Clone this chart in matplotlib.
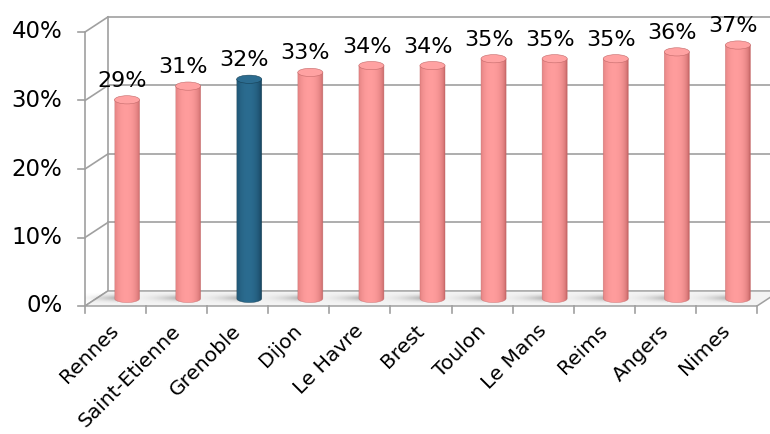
import numpy as np
import matplotlib
matplotlib.use("Agg")
import matplotlib.pyplot as plt
from matplotlib.patches import Polygon, Ellipse
from matplotlib.colors import to_rgb

plt.rcParams['font.family'] = ['DejaVu Sans']

cities = ['Rennes', 'Saint-Etienne', 'Grenoble', 'Dijon', 'Le Havre', 'Brest',
          'Toulon', 'Le Mans', 'Reims', 'Angers', 'Nimes']
shares = [29, 31, 32, 33, 34, 34, 35, 35, 35, 36, 37]
highlight = 'Grenoble'
yticks = [0, 10, 20, 30, 40]

# fake 3D: depth offset of the back wall (in data units), bar size
DX, DY = 0.376, 2.2
BAR_W = 0.41
CAP_H = 1.2
GRID = '#a0a0a0'

fig = plt.figure(figsize=(7.7, 4.34), dpi=100)
ax = fig.add_axes([85 / 770, 128 / 434, 672 / 770, 274 / 434])
ax.set_autoscale_on(False)
ax.set_xlim(-0.5, len(cities) - 0.5)
ax.set_ylim(0, 40)
ax.axis('off')

x0, x1 = -0.5, len(cities) - 0.5

# floor plate
floor = Polygon([(x0, 0), (x1, 0), (x1 + DX, DY), (x0 + DX, DY)], closed=True,
                facecolor='#f3f3f3', edgecolor=GRID, lw=1.1, zorder=1, clip_on=False)
ax.add_patch(floor)

# back wall gridlines and left side wall
for v in yticks:
    if v > 0:
        ax.plot([x0 + DX, x1 + DX + 1], [v + DY, v + DY], color=GRID, lw=1.2,
                zorder=0.5, clip_on=False)
    ax.plot([x0, x0 + DX], [v, v + DY], color=GRID, lw=1.2, zorder=0.6, clip_on=False)
    ax.plot([x0 - 0.115, x0], [v, v], color=GRID, lw=1.2, zorder=0.6, clip_on=False)
    ax.text(x0 - 0.37, v, f'{v}%', ha='right', va='center', fontsize=16.5, clip_on=False)
ax.plot([x0 + DX, x0 + DX], [DY, 40 + DY], color=GRID, lw=1.2, zorder=0.5, clip_on=False)
ax.plot([x0, x0], [0, 40], color=GRID, lw=1.2, zorder=0.6, clip_on=False)

# category ticks along the front edge of the floor
for k in range(len(cities) + 1):
    ax.plot([x0 + k, x0 + k], [0, -1.0], color=GRID, lw=1.2, clip_on=False)


def gradient(dark, light, n=64):
    t = np.linspace(-1, 1, n)
    prof = np.clip(1 - ((t + 0.15) / 1.05) ** 2, 0, 1) ** 0.6
    d, l = np.array(to_rgb(dark)), np.array(to_rgb(light))
    return (d[None, :] + (l - d)[None, :] * prof[:, None])[None, :, :]


def cylinder(xc, top, dark, light, cap, edge):
    base = DY / 2
    a = np.linspace(0, -np.pi, 40)
    pts = [(xc - BAR_W / 2, top), (xc + BAR_W / 2, top)]
    pts += list(zip(xc + BAR_W / 2 * np.cos(a), base + CAP_H / 2 * np.sin(a)))
    body = Polygon(pts, closed=True, facecolor='none', edgecolor=edge, lw=0.4,
                   alpha=0.7, zorder=4, clip_on=False)
    ax.add_patch(body)
    im = ax.imshow(gradient(dark, light), extent=[xc - BAR_W / 2, xc + BAR_W / 2,
                   base - CAP_H / 2, top], aspect='auto', interpolation='bilinear',
                   zorder=3)
    im.set_clip_path(body)
    ax.add_patch(Ellipse((xc, top), BAR_W, CAP_H, facecolor=cap, edgecolor=edge,
                         lw=0.4, alpha=1, zorder=5, clip_on=False))

    # soft shadow on the floor to the left of the bar
    n = 40
    sx = np.linspace(0, 1, n) ** 2
    sy = np.exp(-np.linspace(-1.6, 1.6, 12) ** 2)
    rgba = np.zeros((12, n, 4))
    rgba[..., :3] = 0.45
    rgba[..., 3] = 0.5 * sy[:, None] * sx[None, :]
    ax.imshow(rgba, extent=[xc - BAR_W / 2 - 0.75, xc - BAR_W / 2 + 0.05,
              base - 0.7, base + 0.7], aspect='auto', interpolation='bilinear',
              zorder=2)


for i, (city, v) in enumerate(zip(cities, shares)):
    xc = i + DX / 2
    top = v + DY / 2
    if city == highlight:
        cylinder(xc, top, '#153f58', '#2b6c90', '#2c6c90', '#164055')
    else:
        cylinder(xc, top, '#c86868', '#ff9d9d', '#ffa2a2', '#c46a6a')
    ax.text(xc - 0.08, top + CAP_H / 2 + 1.3, f'{v}%', ha='center', va='baseline',
            fontsize=16, zorder=6, clip_on=False)
    ax.text(i - 0.1, -2.2, city, rotation=45, rotation_mode='anchor', ha='right',
            va='top', fontsize=14.5, clip_on=False)

fig.savefig('out.png', dpi=100, facecolor='white')
